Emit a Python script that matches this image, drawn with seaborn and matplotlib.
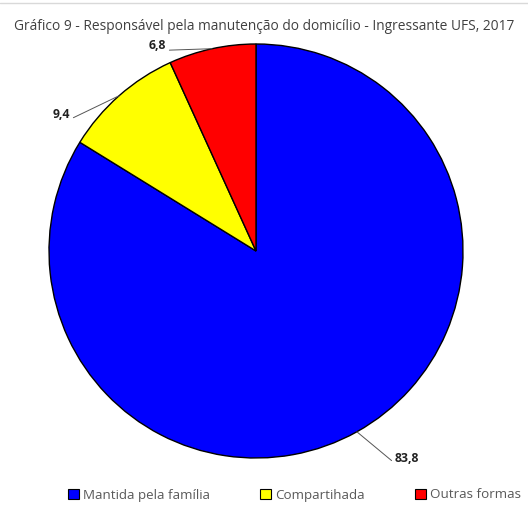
import numpy as np
import matplotlib
matplotlib.use("Agg")
import matplotlib.pyplot as plt
import seaborn as sns

# ==========================
# Data
# ==========================

categories = ["Mantida pela família", "Compartihada", "Outras formas"]
values = [83.8, 9.4, 6.8]
value_labels = ["83,8", "9,4", "6,8"]
colors = ["#0000FF", "#FFFF00", "#FF0000"]

# label offsets from the wedge edge (pixels) and text anchor
label_offsets = [(38, -27), (-49, -19), (-46, 3)]
label_ha = ["left", "right", "right"]

sns.set_theme(style="white")
plt.rcParams["font.family"] = ["Open Sans", "DejaVu Sans"]

fig = plt.figure(figsize=(5.28, 5.09), dpi=100)

# pie axes: centre (256, 251) px, radius 207 px
W, H = 528, 509
cx, cy, r = 256, 251, 207
ax = fig.add_axes([(cx - r) / W, (H - cy - r) / H, 2 * r / W, 2 * r / H])

wedges, _ = ax.pie(
    values,
    colors=colors,
    startangle=90,
    counterclock=False,
    radius=1,
    wedgeprops=dict(edgecolor="black", linewidth=1.0),
)
ax.set_xlim(-1, 1)
ax.set_ylim(-1, 1)
ax.set_aspect("equal")
ax.axis("off")

# ==========================
# Value labels with leader lines
# ==========================

for w, lab, off, ha in zip(wedges, value_labels, label_offsets, label_ha):
    ang = np.deg2rad((w.theta1 + w.theta2) / 2)
    x, y = np.cos(ang), np.sin(ang)
    ax.annotate(
        lab,
        xy=(x, y),
        xytext=off,
        textcoords="offset pixels",
        ha=ha,
        va="center",
        fontsize=8.8,
        fontweight="bold",
        color="#222222",
        annotation_clip=False,
        arrowprops=dict(
            arrowstyle="-",
            color="#555555",
            lw=0.7,
            shrinkA=0,
            shrinkB=0,
            relpos=(0 if ha == "left" else 1, 0.15),
        ),
    )

# ==========================
# Title and legend
# ==========================

fig.text(
    0.5, 1 - 27 / H,
    "Gráfico 9 - Responsável pela manutenção do domicílio - Ingressante UFS, 2017",
    ha="center",
    va="center",
    fontsize=9.95,
    color="#404040",
)

handles = [
    plt.Rectangle((0, 0), 1, 1, facecolor=c, edgecolor="black", linewidth=0.8)
    for c in colors
]
fig.legend(
    handles,
    categories,
    loc="center",
    bbox_to_anchor=(0.558, 1 - 495 / H),
    ncol=3,
    frameon=False,
    fontsize=9.6,
    handlelength=0.8,
    handleheight=0.8,
    handletextpad=0.3,
    columnspacing=3.8,
    labelcolor="#595959",
)

# thin grey line at top of frame
fig.add_artist(plt.Line2D([0, 1], [1 - 3 / H, 1 - 3 / H], color="#d9d9d9", lw=1))

fig.savefig("out.png", dpi=100)
plt.close()
